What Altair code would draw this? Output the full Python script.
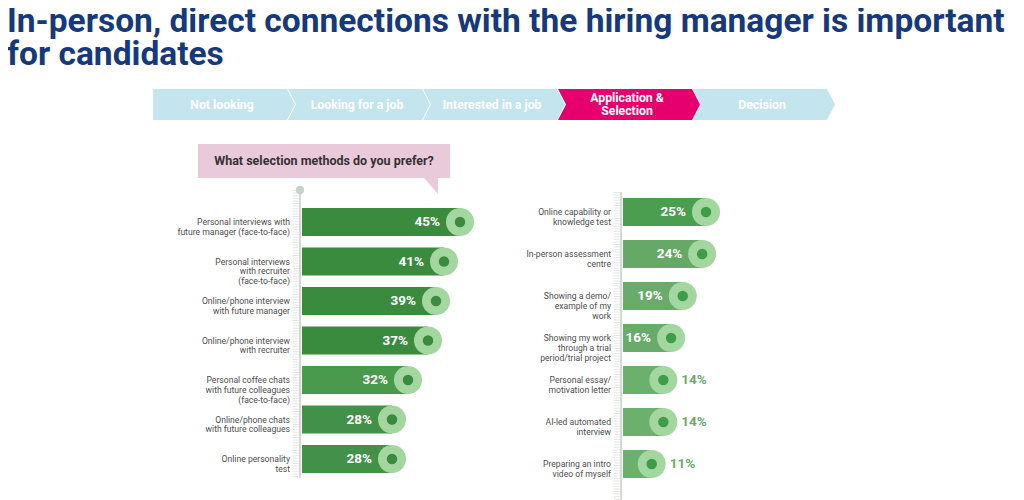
import altair as alt
import pandas as pd

FONT = "Roboto"
LABEL_FONT = "Roboto"

TITLE = "In-person, direct connections with the hiring manager is important\nfor candidates"
QUESTION = "What selection methods do you prefer?"

stages = ["Not looking", "Looking for a job", "Interested in a job",
          "Application &\nSelection", "Decision"]
active_stage = "Application &\nSelection"

left_labels = [
    "Personal interviews with\nfuture manager (face-to-face)",
    "Personal interviews\nwith recruiter\n(face-to-face)",
    "Online/phone interview\nwith future manager",
    "Online/phone interview\nwith recruiter",
    "Personal coffee chats\nwith future colleagues\n(face-to-face)",
    "Online/phone chats\nwith future colleagues",
    "Online personality\ntest",
]
left_values = [45, 41, 39, 37, 32, 28, 28]

right_labels = [
    "Online capability or\nknowledge test",
    "In-person assessment\ncentre",
    "Showing a demo/\nexample of my\nwork",
    "Showing my work\nthrough a trial\nperiod/trial project",
    "Personal essay/\nmotivation letter",
    "AI-led automated\ninterview",
    "Preparing an intro\nvideo of myself",
]
right_values = [25, 24, 19, 16, 14, 14, 11]

left_colors = ["#3b8b3f", "#3b8b3f", "#3b8b3f", "#3b8b3f", "#4a9a4e", "#42904a", "#42904a"]
right_colors = ["#4b9e50", "#66a967", "#69ab6a", "#69ab6a", "#6cb06e", "#6cb06e", "#6cb06e"]

RING = "#a4d6a0"


def panel(labels, values, colors, x_domain, x_range, y_range, line_y, show_dot, dot_color):
    df = pd.DataFrame({"label": labels, "value": values})
    one = pd.DataFrame({"k": [0]})
    x0 = x_domain[0]
    xs = alt.Scale(domain=x_domain, range=x_range, zero=False, nice=False)
    x = alt.X("value:Q", scale=xs, axis=None)

    def xd(v):
        return alt.X(datum=v, type="quantitative", scale=xs, axis=None)

    y = alt.Y("label:N", sort=labels,
              scale=alt.Scale(type="point", domain=labels, range=y_range, padding=0), axis=None)
    base = alt.Chart(df).transform_calculate(pct="datum.value + '%'")
    layers = [
        alt.Chart(one).mark_rule(color="#e3e7e4", strokeWidth=6, strokeDash=[1, 1.6]).encode(
            x=xd(x0 - 1.6), y=alt.value(line_y[0]), y2=alt.value(line_y[1])),
        alt.Chart(one).mark_rule(color="#d3d9d5", strokeWidth=2).encode(
            x=xd(x0 - 0.5), y=alt.value(line_y[0]), y2=alt.value(line_y[1])),
    ]
    if show_dot:
        layers.append(alt.Chart(one).mark_circle(size=70, color="#c8d0cb", opacity=1).encode(
            x=xd(x0 - 0.5), y=alt.value(line_y[0])))
    layers += [
        base.mark_bar(size=28).encode(
            x=x, x2=alt.X2(datum=x0), y=y,
            color=alt.Color("label:N", scale=alt.Scale(domain=labels, range=colors), legend=None)),
        base.mark_circle(size=784, color=RING, opacity=1).encode(x=x, y=y),
        base.mark_circle(size=110, color=dot_color, opacity=1).encode(x=x, y=y),
        base.transform_filter("datum.value >= 16").mark_text(
            align="right", baseline="middle", dx=-20, font=FONT, fontWeight="bold",
            fontSize=13.5, color="white").encode(x=x, y=y, text="pct:N"),
        base.transform_filter("datum.value < 16").mark_text(
            align="left", baseline="middle", dx=18, font=FONT, fontWeight="bold",
            fontSize=13.5, color="#6aab6c").encode(x=x, y=y, text="pct:N"),
        base.mark_text(align="right", baseline="middle", dx=-12, font=LABEL_FONT, fontSize=8.6,
                       lineHeight=9.8, lineBreak="\n", color="#4d4d4d").encode(
            x=xd(x0), y=y, text="label:N"),
    ]
    return layers


left = panel(left_labels, left_values, left_colors, [5.5, 50], [294, 472], [214, 451],
             (182, 470), True, "#3a8a3f")
right = panel(right_labels, right_values, right_colors, [3.6, 30], [615, 717.4], [204, 456],
              (184, 492), False, "#3f9c47")

# Header chevrons (journey stages)
stage_df = pd.DataFrame({"stage": stages})
sx = alt.X("stage:N", sort=stages,
           scale=alt.Scale(type="point", domain=stages, range=[216, 756], padding=0), axis=None)
first_path = "M-1,-0.218 L0.887,-0.218 L1,0 L0.887,0.218 L-1,0.218 Z"
rest_path = "M-1,-0.218 L0.887,-0.218 L1,0 L0.887,0.218 L-1,0.218 L-0.887,0 Z"
stage_color = alt.condition(alt.datum.stage == active_stage, alt.value("#e5006d"), alt.value("#c4e4ee"))
sbase = alt.Chart(stage_df)
header = [
    sbase.transform_filter(alt.datum.stage == stages[0]).mark_point(
        shape=first_path, size=20164, filled=True, opacity=1, strokeWidth=0).encode(
        x=sx, y=alt.value(96.5), color=stage_color),
    sbase.transform_filter(alt.datum.stage != stages[0]).mark_point(
        shape=rest_path, size=20164, filled=True, opacity=1, strokeWidth=0).encode(
        x=sx, y=alt.value(96.5), color=stage_color),
    sbase.transform_filter("indexof(datum.stage, '\\n') < 0").mark_text(
        font=FONT, fontWeight="bold", fontSize=12.25, color="white",
        dx=-2, baseline="middle").encode(
        x=sx, y=alt.value(96.5), text="stage:N"),
    sbase.transform_filter("indexof(datum.stage, '\\n') >= 0").mark_text(
        font=FONT, fontWeight="bold", fontSize=12.25, color="white",
        lineBreak="\n", lineHeight=13, dx=-2, dy=-6.5, baseline="middle").encode(
        x=sx, y=alt.value(96.5), text="stage:N"),
]

# Title, question bubble
txt = pd.DataFrame({"t": [TITLE], "q": [QUESTION]})
tbase = alt.Chart(txt)
BUBBLE = "#e9cadb"
deco = [
    tbase.mark_text(align="left", baseline="alphabetic", font=FONT, fontWeight="bold",
                    fontSize=33.5, lineHeight=33, lineBreak="\n", color="#15397c").encode(
        x=alt.value(-1), y=alt.value(24), text="t:N"),
    tbase.mark_rect(color=BUBBLE).encode(
        x=alt.value(190), x2=alt.value(442), y=alt.value(136), y2=alt.value(170)),
    tbase.mark_point(shape="M-0.875,-1 L0.875,-1 L0.875,1 Z", size=256, filled=True,
                     opacity=1, strokeWidth=0, color=BUBBLE).encode(
        x=alt.value(423), y=alt.value(178)),
    tbase.mark_text(font=FONT, fontWeight="bold", fontSize=12.5, color="#333333",
                    align="center", baseline="middle").encode(
        x=alt.value(316), y=alt.value(153), text="q:N"),
]

chart = alt.layer(*deco, *header, *left, *right).resolve_scale(
    x="independent", y="independent", color="independent"
).properties(
    width=1008, height=492, autosize=alt.AutoSizeParams(type="none"), padding=0
).configure_view(stroke=None)

chart.save("out.html", embed_options={"renderer": "svg", "actions": False})
